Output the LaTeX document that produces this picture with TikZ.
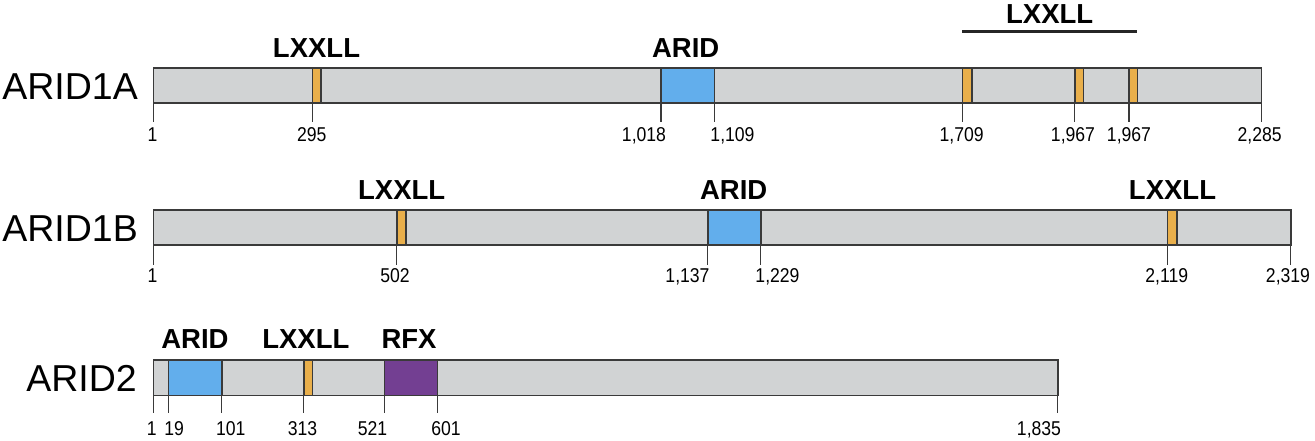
\documentclass[tikz,border=0pt]{standalone}
\usepackage{fontspec}
\setmainfont{Liberation Sans}
\newfontfamily\narrowlab[FakeStretch=0.88]{Liberation Sans}
\definecolor{barfill}{HTML}{D1D3D4}
\definecolor{lxxll}{HTML}{E9AF4B}
\definecolor{aridc}{HTML}{62AEEC}
\definecolor{rfxc}{HTML}{733F92}
\definecolor{edge}{HTML}{3A3A3A}
\tikzset{
  barbox/.style={draw=edge, line width=1.6pt, fill=barfill},
  dombox/.style={draw=edge, line width=1.6pt, fill=#1},
  tickline/.style={draw=edge, line width=1.5pt},
  pname/.style={anchor=base east, inner sep=0pt, font=\fontsize{37.5}{40}\selectfont},
  dlabel/.style={anchor=base, inner sep=0pt, font=\fontsize{27.5}{30}\selectfont\bfseries},
  tlabel/.style={anchor=base, inner sep=0pt, font=\narrowlab\fontsize{20}{22}\selectfont},
}
\begin{document}
\begin{tikzpicture}[x=1pt,y=-1pt]
\useasboundingbox (0,0) rectangle (1315,440);

% ---------------- ARID1A ----------------
\node[pname] (n1a) at (138,99) {ARID1A};
\foreach \t in {153.3,312.3,661,714.3,962.3,1074.7,1129,1261.5}
  \draw[tickline] (\t,102.7) -- (\t,121.7);
\draw[barbox] (153.3,68) rectangle (1261.5,102.7);
\draw[dombox=lxxll] (312.3,68) rectangle (320.7,102.7);
\draw[dombox=aridc] (661,68) rectangle (714.3,102.7);
\draw[dombox=lxxll] (962.3,68) rectangle (971.7,102.7);
\draw[dombox=lxxll] (1074.7,68) rectangle (1083.3,102.7);
\draw[dombox=lxxll] (1129,68) rectangle (1137.3,102.7);
\node[dlabel] (a1l1) at (316.5,57) {LXXLL};
\node[dlabel] (a1ar) at (685.7,57) {ARID};
\node[dlabel] (a1l2) at (1049.7,23) {LXXLL};
\draw[draw=black!85, line width=3pt] (962.3,31) -- (1137.3,31);
\node[tlabel] (a1t1) at (152.5,141.5) {1};
\node[tlabel] (a1t2) at (311.7,141.5) {295};
\node[tlabel] (a1t3) at (644,141.5) {1,018};
\node[tlabel] (a1t4) at (732.5,141.5) {1,109};
\node[tlabel] (a1t5) at (961.6,141.5) {1,709};
\node[tlabel] (a1t6) at (1073,141.5) {1,967};
\node[tlabel] (a1t7) at (1129,141.5) {1,967};
\node[tlabel] (a1t8) at (1259.6,141.5) {2,285};

% ---------------- ARID1B ----------------
\node[pname] (n1b) at (138,241.3) {ARID1B};
\foreach \t in {153.3,396.7,707.7,760.7,1167.3,1290.7}
  \draw[tickline] (\t,245) -- (\t,265);
\draw[barbox] (153.3,210) rectangle (1290.7,245);
\draw[dombox=lxxll] (396.7,210) rectangle (405.7,245);
\draw[dombox=aridc] (707.7,210) rectangle (760.7,245);
\draw[dombox=lxxll] (1167.3,210) rectangle (1176.7,245);
\node[dlabel] (b1l1) at (401.7,199) {LXXLL};
\node[dlabel] (b1ar) at (733.7,199) {ARID};
\node[dlabel] (b1l2) at (1172.5,199) {LXXLL};
\node[tlabel] (b1t1) at (152.5,282) {1};
\node[tlabel] (b1t2) at (395,282) {502};
\node[tlabel] (b1t3) at (687.5,282) {1,137};
\node[tlabel] (b1t4) at (777.5,282) {1,229};
\node[tlabel] (b1t5) at (1166.7,282) {2,119};
\node[tlabel] (b1t6) at (1288,282) {2,319};

% ---------------- ARID2 ----------------
\node[pname] (n2) at (137,391.7) {ARID2};
\foreach \t in {153.3,168.3,221.7,303.7,384.3,437.3,1057.7}
  \draw[tickline] (\t,395.3) -- (\t,413);
\draw[barbox] (153.3,360) rectangle (1057.7,395.3);
\draw[dombox=aridc] (168.3,360) rectangle (221.7,395.3);
\draw[dombox=lxxll] (303.7,360) rectangle (312.3,395.3);
\draw[dombox=rfxc] (384.3,360) rectangle (437.3,395.3);
\node[dlabel] (c2ar) at (195,348) {ARID};
\node[dlabel] (c2lx) at (305.8,348) {LXXLL};
\node[dlabel] (c2rf) at (409,348) {RFX};
\node[tlabel] (c2t1) at (151.7,435) {1};
\node[tlabel] (c2t2) at (174.2,435) {19};
\node[tlabel] (c2t3) at (230.8,435) {101};
\node[tlabel] (c2t4) at (302.5,435) {313};
\node[tlabel] (c2t5) at (372.5,435) {521};
\node[tlabel] (c2t6) at (446,435) {601};
\node[tlabel] (c2t7) at (1039,435) {1,835};
\end{tikzpicture}
\end{document}
